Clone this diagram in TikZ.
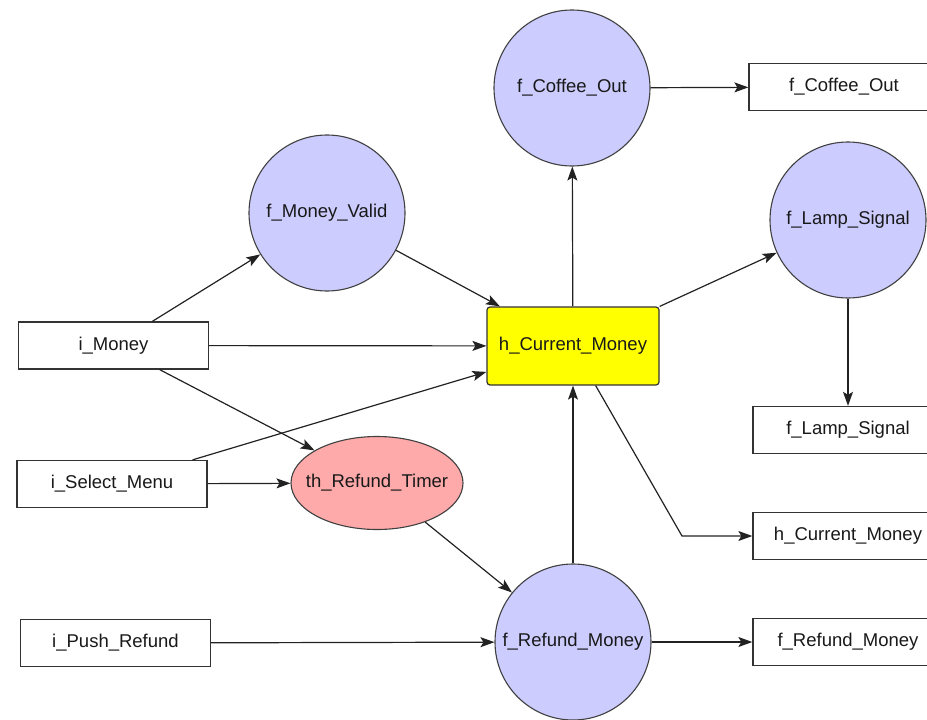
\documentclass[tikz,border=0pt]{standalone}
\usepackage{fontspec}
\setmainfont{Liberation Sans}
\usetikzlibrary{arrows.meta,shapes.geometric}
\definecolor{lav}{HTML}{CCCCFF}
\definecolor{pinkf}{HTML}{FFAAAA}
\definecolor{yel}{HTML}{FFFF00}
\definecolor{edge}{HTML}{222222}
\begin{document}
\begin{tikzpicture}[x=1pt,y=-1pt,
  every node/.style={font=\fontsize{18.5}{20}\selectfont, inner sep=0pt, text=black!90},
  box/.style={draw=black!80, line width=1.3pt, fill=white, minimum width=190pt, minimum height=47pt},
  func/.style={circle, draw=black!75, line width=1.1pt, fill=lav, minimum size=156pt},
  timer/.style={ellipse, draw=black!75, line width=1.1pt, fill=pinkf, inner xsep=-17pt, minimum width=172pt, minimum height=93pt},
  hist/.style={rectangle, rounded corners=3pt, draw=black!80, line width=1.2pt, fill=yel, minimum width=172pt, minimum height=78pt},
  arr/.style={draw=edge, line width=1.2pt, -{Stealth[length=14pt,width=10pt,inset=3pt]}}
]
\useasboundingbox (0,0) rectangle (927,720);

% nodes
\node[func] (fco) at (572,88) {f\_Coffee\_Out};
\node[box] (bco) at (844,87) {f\_Coffee\_Out};
\node[func] (fmv) at (327,213) {f\_Money\_Valid};
\node[func] (fls) at (848,220) {f\_Lamp\_Signal};
\node[box] (bls) at (848,430) {f\_Lamp\_Signal};
\node[box] (im) at (113.5,345.5) {i\_Money};
\node[hist] (hcm) at (573,346) {h\_Current\_Money};
\node[box] (ism) at (112,484) {i\_Select\_Menu};
\node[timer] (trt) at (377,483) {th\_Refund\_Timer};
\node[box] (bhcm) at (848,536) {h\_Current\_Money};
\node[box] (ipr) at (115.5,643) {i\_Push\_Refund};
\node[func] (frm) at (573,642) {f\_Refund\_Money};
\node[box] (brm) at (848,642) {f\_Refund\_Money};
\coordinate (bend) at (682,536);

% connectors
\draw[arr] (im) -- (fmv);
\draw[arr] (fmv) -- (hcm);
\draw[arr] (im) -- (hcm);
\draw[arr] (im) -- (trt);
\draw[arr] (ism) -- (hcm);
\draw[arr] (ism) -- (trt);
\draw[arr] (trt) -- (frm);
\draw[arr] (ipr) -- (frm);
\draw[arr] (frm) -- (hcm);
\draw[arr] (hcm) -- (fco);
\draw[arr] (fco) -- (bco);
\draw[arr] (hcm) -- (fls);
\draw[arr] (fls) -- (bls);
\draw[arr] (hcm) -- (bend) -- (bhcm);
\draw[arr] (frm) -- (brm);
\end{tikzpicture}
\end{document}
